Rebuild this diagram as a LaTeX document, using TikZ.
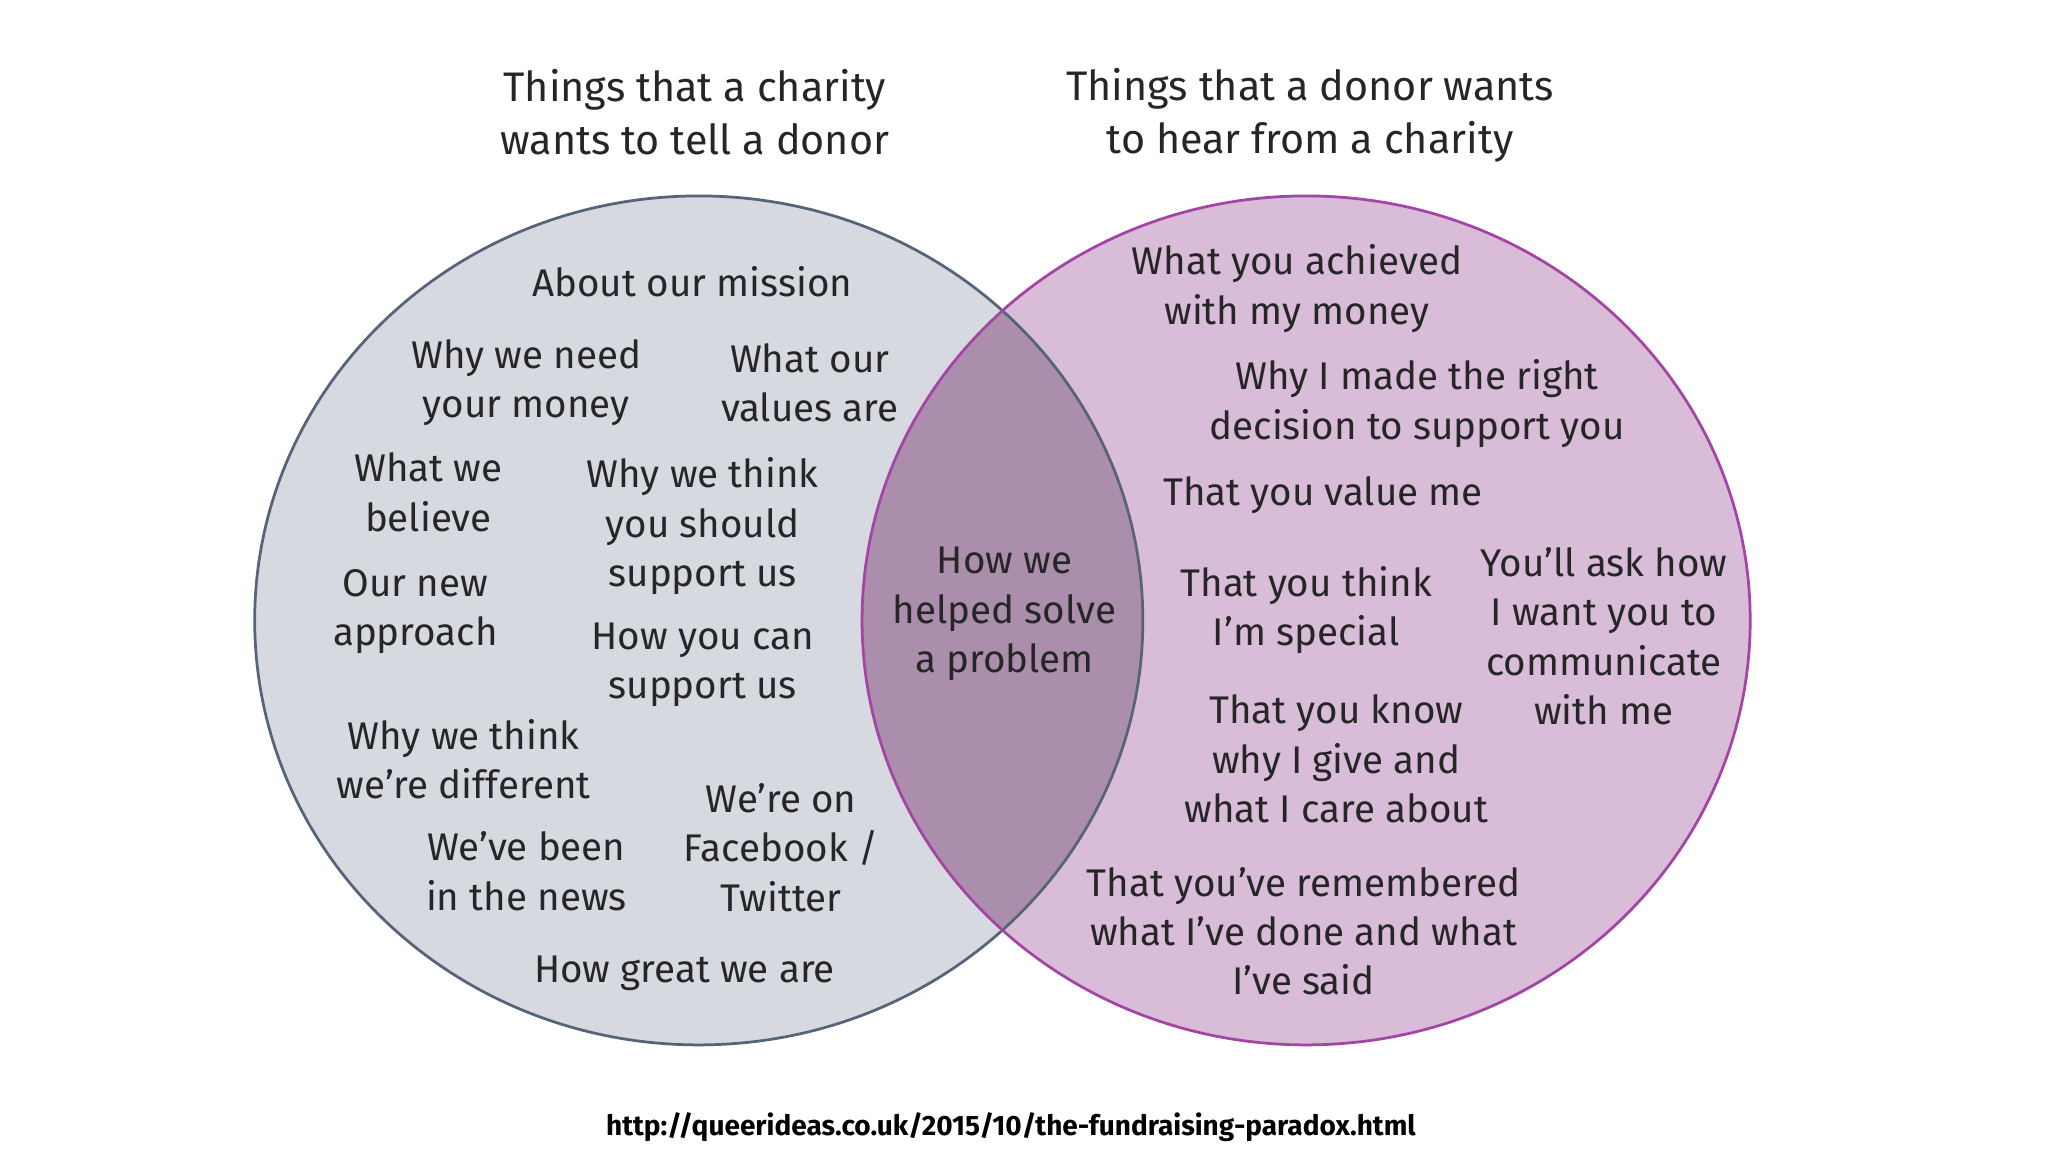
\documentclass[tikz,border=0pt]{standalone}
\usepackage{fontspec}
\setmainfont{Fira Sans}
\begin{document}
\begin{tikzpicture}[x=0.02cm,y=-0.02cm,
  t/.style={align=center,font=\fontsize{16.8}{21.5}\selectfont,text=black!85,inner sep=0pt},
  h/.style={align=center,font=\fontsize{18}{23}\selectfont,text=black!85,inner sep=0pt}]
\useasboundingbox (0,0) rectangle (1568,882);
\definecolor{lf}{HTML}{D6D9E0}\definecolor{lb}{HTML}{56647A}
\definecolor{rf}{HTML}{D8BCD8}\definecolor{rb}{HTML}{A444A4}
\definecolor{of}{HTML}{AB8EAB}
\fill[lf] (535,475) ellipse [x radius=340,y radius=325];
\fill[rf] (1000,475) ellipse [x radius=340,y radius=325];
\begin{scope}
\clip (535,475) ellipse [x radius=340,y radius=325];
\fill[of] (1000,475) ellipse [x radius=340,y radius=325];
\end{scope}
\draw[lb,line width=1.2pt] (535,475) ellipse [x radius=340,y radius=325];
\draw[rb,line width=1.2pt] (1000,475) ellipse [x radius=340,y radius=325];
\node[h] (h1) at (532,86) {Things that a charity\\wants to tell a donor};
\node[h] (h2) at (1003,88) {Things that a donor wants\\to hear from a charity};
\node[t] (a1) at (530,216) {About our mission};
\node[t] (a2) at (403,293) {Why we need\\your money};
\node[t] (a3) at (620,293) {What our\\values are};
\node[t] (a4) at (328,377) {What we\\believe};
\node[t] (a5) at (538,403) {Why we think\\you should\\support us};
\node[t] (a6) at (318,468) {Our new\\approach};
\node[t] (a7) at (538,509) {How you can\\support us};
\node[t] (a8) at (355,581) {Why we think\\we're different};
\node[t] (a9) at (598,649) {We're on\\Facebook /\\Twitter};
\node[t] (a10) at (403,667) {We've been\\in the news};
\node[t] (a11) at (524,745) {How great we are};
\node[t] (c) at (769,470) {How we\\helped solve\\a problem};
\node[t] (b1) at (993,221) {What you achieved\\with my money};
\node[t] (b2) at (1085,309) {Why I made the right\\decision to support you};
\node[t] (b3) at (1013,379) {That you value me};
\node[t] (b4) at (1000,467) {That you think\\I'm special};
\node[t] (b5) at (1228,487) {You'll ask how\\I want you to\\communicate\\with me};
\node[t] (b6) at (1023,581) {That you know\\why I give and\\what I care about};
\node[t] (b7) at (998,713) {That you've remembered\\what I've done and what\\I've said};
\node[font=\bfseries\fontsize{12.2}{14}\selectfont,inner sep=0pt] (u) at (774,863) {http://queerideas.co.uk/2015/10/the-fundraising-paradox.html};
\end{tikzpicture}
\end{document}
